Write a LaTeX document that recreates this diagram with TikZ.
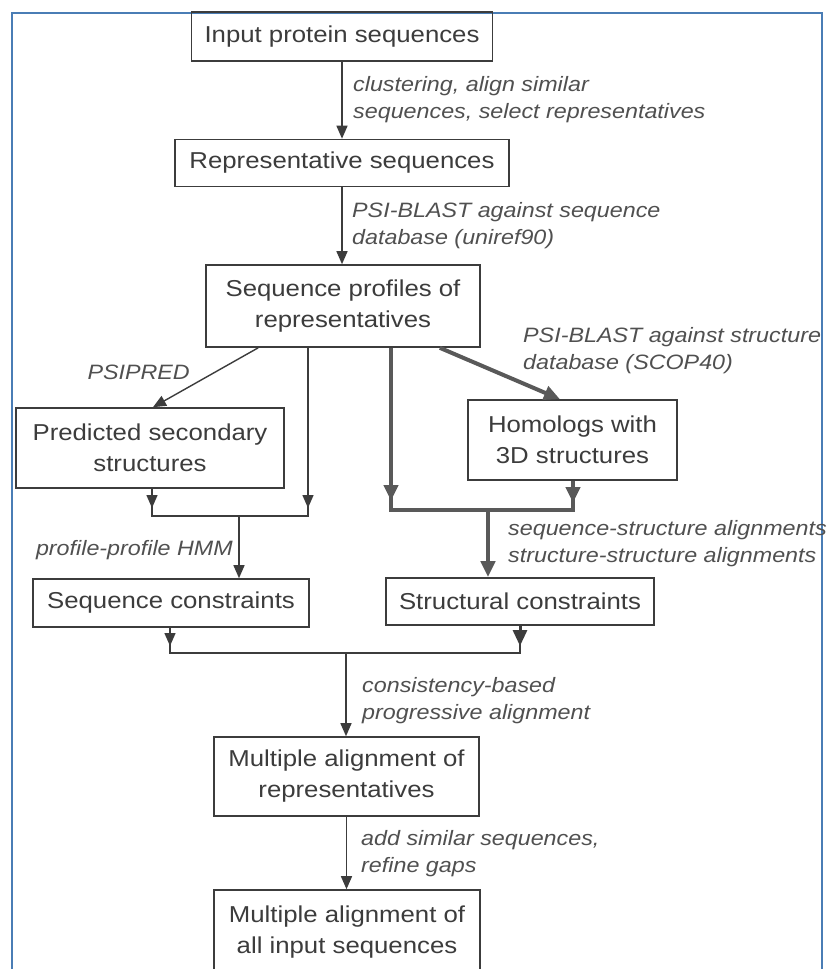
\documentclass[tikz,border=0pt]{standalone}
\usepackage{fontspec}
\setmainfont{Liberation Sans}[FakeStretch=1.12]
\usetikzlibrary{arrows.meta,calc}
\definecolor{ink}{HTML}{3C3C3C}
\definecolor{lab}{HTML}{505050}
\definecolor{framec}{HTML}{4A7DB5}
\begin{document}
\begin{tikzpicture}[x=1pt,y=-1pt,
  box/.style={draw=ink, line width=1.6pt, text=ink, align=center, inner sep=0pt,
    font=\fontsize{23}{31}\selectfont},
  lbl/.style={text=lab, align=left, anchor=west, inner sep=0pt,
    font=\fontsize{20.8}{27}\selectfont\itshape},
  thinl/.style={draw=ink, line width=1.4pt},
  thickl/.style={draw=ink!85, line width=4pt},
  tip/.style={-{Triangle[length=13pt,width=11pt]}},
  ttip/.style={-{Triangle[length=16pt,width=14pt]}}]
\useasboundingbox (0,0) rectangle (829,969);
\clip (0,0) rectangle (829,969);
\fill[white] (0,0) rectangle (829,969);
\draw[framec, line width=2pt] (12,980) -- (12,13) -- (822,13) -- (822,980);

% boxes
\node[box, minimum width=301pt, minimum height=49pt] (in) at (342,36.5) {Input protein sequences};
\node[box, minimum width=334pt, minimum height=47pt] (rep) at (342,163) {Representative sequences};
\node[box, minimum width=274pt, minimum height=82pt] (prof) at (343,306) {Sequence profiles of\\representatives};
\node[box, minimum width=268pt, minimum height=80pt] (pred) at (150,448) {Predicted secondary\\structures};
\node[box, minimum width=209pt, minimum height=80pt] (hom) at (572.5,440) {Homologs with\\3D structures};
\node[box, minimum width=276pt, minimum height=48pt] (seqc) at (171,603) {Sequence constraints};
\node[box, minimum width=268pt, minimum height=47pt] (strc) at (520,601.5) {Structural constraints};
\node[box, minimum width=265pt, minimum height=79pt] (ma1) at (346.5,776.5) {Multiple alignment of\\representatives};
\node[box, minimum width=266pt, minimum height=85pt] (ma2) at (347,932.5) {Multiple alignment of\\all input sequences};

% labels
\node[lbl] (l1) at (353,100) {clustering, align similar\\sequences, select representatives};
\node[lbl] (l2) at (352,226) {PSI-BLAST against sequence\\database (uniref90)};
\node[lbl, anchor=east] (l3) at (190,372) {PSIPRED};
\node[lbl, anchor=east] (l4) at (233,550) {profile-profile HMM};
\node[lbl] (l5) at (523,351) {PSI-BLAST against structure\\database (SCOP40)};
\node[lbl] (l6) at (508,544) {sequence-structure alignments\\structure-structure alignments};
\node[lbl] (l7) at (362,701) {consistency-based\\progressive alignment};
\node[lbl] (l8) at (361,854) {add similar sequences,\\refine gaps};

% top chain
\draw[thinl,tip] (in.south) -- (rep.north);
\draw[thinl,tip] (rep.south) -- (rep.south |- prof.north);

% left branch
\coordinate (pa) at ($(prof.south west)+(53,0)$);
\coordinate (pb) at ($(pred.north)+(3,0)$);
\draw[thinl,tip] (pa) -- (pb);
\coordinate (bl1) at (152,516);
\coordinate (bl2) at (308,516);
\draw[thinl] (pred.south -| bl1) -- (bl1) -- (bl2) -- (prof.south -| bl2);
\draw[thinl,tip] (pred.south -| bl1) -- ($(bl1)+(0,-8)$);
\draw[thinl,tip] (prof.south -| bl2) -- ($(bl2)+(0,-8)$);
\coordinate (bm) at (239,516);
\draw[thinl,tip] (bm) -- (bm |- seqc.north);

% right branch
\coordinate (br1) at (391,510);
\coordinate (br2) at (573,510);
\draw[thickl] (prof.south -| br1) -- (br1) -- (br2) -- (hom.south -| br2);
\draw[thickl,ttip] (prof.south -| br1) -- ($(br1)+(0,-9)$);
\draw[thickl,ttip] (hom.south -| br2) -- ($(br2)+(0,-7)$);
\draw[thickl,ttip] ($(prof.south east)+(-41,0)$) -- ($(hom.north)+(-12.5,0)$);
\coordinate (bs) at (488,510);
\draw[thickl,ttip] (bs) -- (bs |- strc.north);

% bottom merge
\coordinate (bb1) at (170,653);
\coordinate (bb2) at (520,653);
\draw[thinl] (seqc.south -| bb1) -- (bb1) -- (bb2) -- (strc.south -| bb2);
\draw[thinl,tip] (seqc.south -| bb1) -- ($(bb1)+(0,-7)$);
\draw[draw=ink, line width=3pt, ttip] (strc.south -| bb2) -- ($(bb2)+(0,-7)$);
\coordinate (bc) at (346,653);
\draw[thinl,tip] (bc) -- (bc |- ma1.north);
\draw[thinl,tip] (ma1.south) -- (ma1.south |- ma2.north);
\end{tikzpicture}
\end{document}
